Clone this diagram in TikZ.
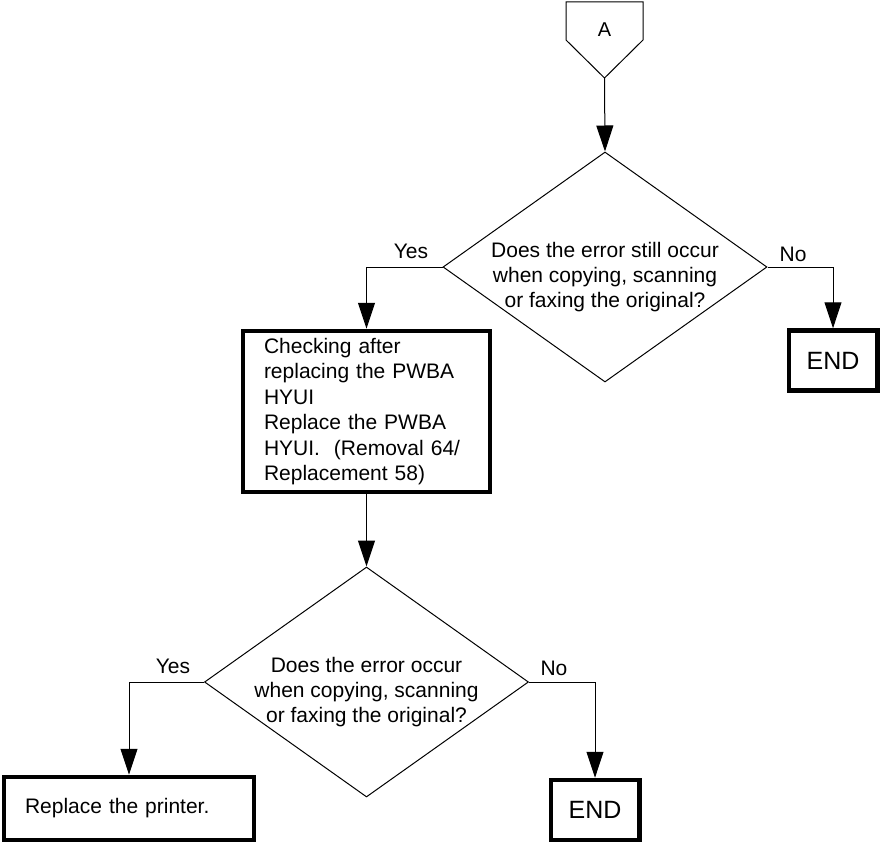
\documentclass[tikz,border=0pt]{standalone}
\usepackage{fontspec}
\setmainfont{Liberation Sans}
\usetikzlibrary{shapes.geometric,arrows.meta}
\begin{document}
\begin{tikzpicture}[x=1pt,y=-1pt,
  thin line/.style={line width=1pt,draw=black},
  arr/.style={line width=1pt,draw=black,-{Triangle[length=26pt,width=17pt]}},
  decision/.style={diamond,draw=black,line width=1pt,inner sep=0pt,minimum width=324pt,minimum height=230pt},
  dtext/.style={font=\fontsize{21}{25}\selectfont,align=center,inner sep=0pt},
  actbox/.style={rectangle,draw=black,line width=4.5pt,font=\fontsize{21}{25.5}\selectfont,align=left,inner ysep=0pt},
  endbox/.style={rectangle,draw=black,line width=4.5pt,font=\fontsize{25}{30}\selectfont,minimum width=88.5pt,minimum height=60pt,inner sep=0pt},
  lbl/.style={font=\fontsize{21}{25}\selectfont,anchor=base,inner sep=0pt}]
\useasboundingbox (0,0) rectangle (880,843);
% connector A
\draw[thin line] (566,2) -- (643,2) -- (643,40) -- (604.5,78) -- (566,40) -- cycle;
\node[font=\fontsize{20}{24}\selectfont,inner sep=0pt] (A) at (604.5,30) {A};
\coordinate (Atip) at (604.5,78);
% first decision
\node[decision] (d1) at (605,267) {};
\node[dtext] (d1t) at (605,277.5) {Does the error still occur\\when copying, scanning\\or faxing the original?};
% first action box
\node[actbox,minimum width=247pt,minimum height=161pt,text width=205pt,inner xsep=21pt] (box1) at (366.5,411.5)
  {Checking after\\replacing the PWBA\\HYUI\\Replace the PWBA\\HYUI.\ \ (Removal 64/\\Replacement 58)};
% end 1
\node[endbox] (end1) at (833,360.5) {END};
% second decision
\node[decision] (d2) at (366.5,682) {};
\node[dtext] (d2t) at (366.5,692.5) {Does the error occur\\when copying, scanning\\or faxing the original?};
% printer box
\node[actbox,minimum width=250pt,minimum height=63pt,text width=208pt,inner xsep=21pt] (printer) at (129,808.5) {Replace the printer.};
% end 2
\node[endbox] (end2) at (595,810) {END};
% labels
\node[lbl] (y1) at (411,258) {Yes};
\node[lbl] (n1) at (793,261) {No};
\node[lbl] (y2) at (173,673) {Yes};
\node[lbl] (n2) at (554,675) {No};
% connectors
\draw[arr] (Atip) -- (d1.north);
\draw[arr] (d1.west) -| (box1.north);
\draw[arr] (d1.east) -| (end1.north);
\draw[arr] (box1.south) -- (d2.north);
\draw[arr] (d2.west) -| (printer.north);
\draw[arr] (d2.east) -| (end2.north);
\end{tikzpicture}
\end{document}
